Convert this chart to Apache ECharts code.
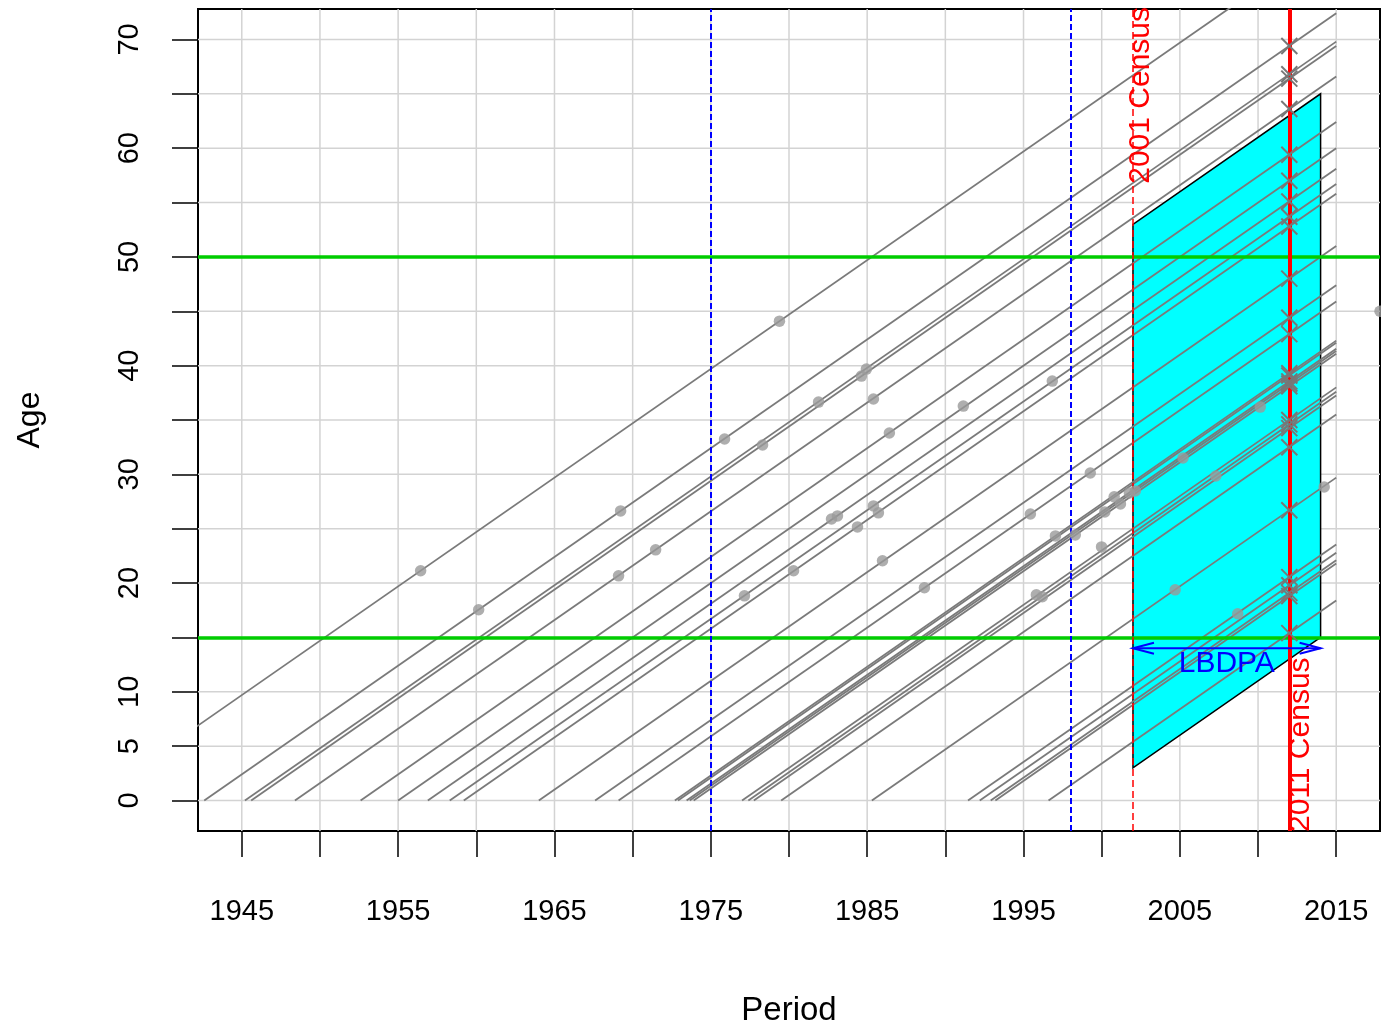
<!DOCTYPE html>
<html><head><meta charset="utf-8">
<script src="https://cdn.jsdelivr.net/npm/echarts@6/dist/echarts.min.js"></script>
<style>html,body{margin:0;padding:0;background:#fff}#c{width:1381px;height:1025px}</style>
</head><body><div id="c"></div>
<script>
// ---------- data ----------
const birthYears = [1935.3, 1942.6, 1945.2, 1945.6, 1948.4, 1952.6, 1955.0, 1956.9, 1958.3, 1959.2,
  1964.0, 1967.6, 1969.1, 1972.7, 1972.9, 1973.45, 1973.65, 1973.9, 1977.0, 1977.4, 1977.75,
  1979.5, 1985.3, 1991.45, 1992.2, 1992.9, 1993.2, 1996.6];
const exitYear = 2015;
const eventPoints = [[1956.44,21.13],[1960.15,17.55],[1969.23,26.64],[1969.10,20.67],[1971.47,23.06],
  [1975.88,33.25],[1979.39,44.09],[1977.15,18.83],[1978.31,32.70],[1980.29,21.13],[1981.89,36.65],
  [1982.72,25.90],[1983.10,26.18],[1984.38,25.17],[1984.63,39.04],[1984.95,39.68],[1985.40,27.10],
  [1985.72,26.46],[1985.40,36.93],[1985.98,22.05],[1986.42,33.80],[1988.66,19.57],[1991.15,36.28],
  [1995.44,26.36],[1995.82,18.92],[1996.20,18.74],[1996.84,38.58],[1997.04,24.34],[1998.31,24.43],
  [1999.27,30.13],[1999.99,23.33],[2000.20,26.55],[2000.80,27.93],[2001.20,27.28],[2001.77,28.29],
  [2002.15,28.48],[2005.20,31.50],[2004.70,19.38],[2007.30,29.85],[2008.70,17.18],[2010.14,36.19],
  [2014.23,28.84],[2017.8,45.0]];
const census2011Year = 2012;
const census2011Ages = [69.4, 66.8, 66.4, 63.6, 59.4, 57.0, 55.1, 53.7, 52.8, 48.0, 44.4, 42.9,
  39.3, 39.1, 38.55, 38.35, 38.1, 35.0, 34.6, 34.25, 32.5, 26.7, 20.55, 19.8, 19.1, 18.8, 15.4];
const census2001Year = 2002;
const censusLabels = ['2001 Census', '2011 Census'];
const referenceYears = [1975, 1998];
const ageBands = [15, 50];
const lbdpaYears = [2002, 2014];
const lbdpaLowerAges = [3, 15];
const lbdpaUpperAges = [53, 65];
const lbdpaArrowAge = 14;
const lbdpaLabel = 'LBDPA';
const xTickValues = [1945,1950,1955,1960,1965,1970,1975,1980,1985,1990,1995,2000,2005,2010,2015];
const xLabelValues = [1945,1955,1965,1975,1985,1995,2005,2015];
const yTickValues = [0,5,10,15,20,25,30,35,40,45,50,55,60,65,70];
const yLabelValues = [0,5,10,20,30,40,50,60,70];
const xRange = [1942.2, 2017.8];
const yRange = [-2.8, 72.8];

// ---------- chart ----------
const FONT = '"Liberation Sans", Arial, Helvetica, sans-serif';
const chart = echarts.init(document.getElementById('c'), null, {renderer: 'canvas'});

const series = [];
// grid lines
series.push({
  type: 'custom', silent: true, z: 1, data: [[xRange[0], yRange[0]]],
  renderItem: (params, api) => {
    const ch = [];
    xTickValues.forEach(v => {
      const a = api.coord([v, yRange[0]]), b = api.coord([v, yRange[1]]);
      ch.push({type:'line', shape:{x1:a[0], y1:a[1], x2:b[0], y2:b[1]}, style:{stroke:'#d3d3d3', lineWidth:1.5}});
    });
    yTickValues.forEach(v => {
      const a = api.coord([xRange[0], v]), b = api.coord([xRange[1], v]);
      ch.push({type:'line', shape:{x1:a[0], y1:a[1], x2:b[0], y2:b[1]}, style:{stroke:'#d3d3d3', lineWidth:1.5}});
    });
    return {type:'group', children: ch};
  }
});
// LBDPA parallelogram
series.push({
  type: 'custom', silent: true, z: 2, data: [[lbdpaYears[0], lbdpaLowerAges[0]]],
  renderItem: (params, api) => {
    const pts = [
      api.coord([lbdpaYears[0], lbdpaLowerAges[0]]),
      api.coord([lbdpaYears[0], lbdpaUpperAges[0]]),
      api.coord([lbdpaYears[1], lbdpaUpperAges[1]]),
      api.coord([lbdpaYears[1], lbdpaLowerAges[1]])
    ];
    return {type:'polygon', shape:{points: pts}, style:{fill:'#00ffff', stroke:'#000', lineWidth:1.5}};
  }
});
// lifelines
birthYears.forEach(b => {
  series.push({
    type: 'line', silent: true, z: 3, symbol: 'none', showSymbol: false, clip: true,
    data: [[b, 0], [exitYear, exitYear - b]],
    lineStyle: {color: '#7a7a7a', width: 1.8}
  });
});
// age bands (green)
series.push({
  type: 'line', data: [], silent: true, z: 4,
  markLine: {silent: true, symbol: 'none', label: {show: false}, animation: false,
    lineStyle: {color: '#00cd00', width: 3.5, type: 'solid'},
    data: ageBands.map(a => ({yAxis: a}))}
});
// reference years (blue dashed)
series.push({
  type: 'line', data: [], silent: true, z: 5,
  markLine: {silent: true, symbol: 'none', label: {show: false}, animation: false,
    lineStyle: {color: '#0000ff', width: 2, type: [6, 3]},
    data: referenceYears.map(y => ({xAxis: y}))}
});
// event points
series.push({
  type: 'scatter', silent: true, z: 6, symbol: 'circle', symbolSize: 11.5,
  itemStyle: {color: '#9a9a9a'}, data: eventPoints, clip: false
});
// crosses at 2011 census
series.push({
  type: 'custom', silent: true, z: 7,
  data: census2011Ages.map(a => [census2011Year, a]),
  renderItem: (params, api) => {
    const p = api.coord([api.value(0), api.value(1)]);
    const h = 8;
    return {type:'group', children:[
      {type:'line', shape:{x1:p[0]-h, y1:p[1]-h, x2:p[0]+h, y2:p[1]+h}, style:{stroke:'#777', lineWidth:2}},
      {type:'line', shape:{x1:p[0]-h, y1:p[1]+h, x2:p[0]+h, y2:p[1]-h}, style:{stroke:'#777', lineWidth:2}}
    ]};
  }
});
// census lines
series.push({
  type: 'line', data: [], silent: true, z: 8,
  markLine: {silent: true, symbol: 'none', label: {show: false}, animation: false,
    data: [
      {xAxis: census2001Year, lineStyle: {color: '#ff0000', width: 1.5, type: [7, 4]}},
      {xAxis: census2011Year, lineStyle: {color: '#ff0000', width: 4, type: 'solid'}}
    ]}
});
// annotations: arrow, LBDPA label, census labels
series.push({
  type: 'custom', silent: true, z: 9, data: [[lbdpaYears[0], lbdpaArrowAge]],
  renderItem: (params, api) => {
    const p0 = api.coord([lbdpaYears[0], lbdpaArrowAge]);
    const p1 = api.coord([lbdpaYears[1], lbdpaArrowAge]);
    const L = 21, H = 5.5;
    const blue = '#0000ff';
    const topY = api.coord([census2001Year, yRange[1]])[1];
    const botY = api.coord([census2011Year, yRange[0]])[1];
    const c01 = api.coord([census2001Year, 0])[0];
    const c11 = api.coord([census2011Year, 0])[0];
    const mid = api.coord([(lbdpaYears[0] + lbdpaYears[1]) / 2, lbdpaArrowAge]);
    return {type:'group', children:[
      {type:'line', shape:{x1:p0[0], y1:p0[1], x2:p1[0], y2:p1[1]}, style:{stroke:blue, lineWidth:2}},
      {type:'polyline', shape:{points:[[p0[0]+L, p0[1]-H],[p0[0], p0[1]],[p0[0]+L, p0[1]+H]]}, style:{stroke:blue, lineWidth:2, fill:null}},
      {type:'polyline', shape:{points:[[p1[0]-L, p1[1]-H],[p1[0], p1[1]],[p1[0]-L, p1[1]+H]]}, style:{stroke:blue, lineWidth:2, fill:null}},
      {type:'text', x: mid[0], y: mid[1] + 15, style:{text: lbdpaLabel, fill: blue, font: '30px ' + FONT, align:'center', verticalAlign:'middle'}},
      {type:'text', x: c01 - 7, y: topY - 2, rotation: Math.PI/2,
        style:{text: censusLabels[0], fill:'#ff0000', font:'30px ' + FONT, align:'right', verticalAlign:'top'}},
      {type:'text', x: c11 - 4, y: botY + 1, rotation: Math.PI/2,
        style:{text: censusLabels[1], fill:'#ff0000', font:'30px ' + FONT, align:'left', verticalAlign:'top'}}
    ]};
  }
});

chart.setOption({
  animation: false,
  backgroundColor: '#fff',
  textStyle: {fontFamily: FONT},
  grid: {left: 198, right: 1, top: 9, bottom: 194, show: true, borderColor: '#000', borderWidth: 2,
    backgroundColor: 'transparent', containLabel: false, outerBoundsMode: 'none'},
  xAxis: {
    type: 'value', min: xRange[0], max: xRange[1],
    axisLine: {show: false, onZero: false},
    splitLine: {show: false},
    axisTick: {show: true, customValues: xTickValues, length: 26, lineStyle: {color: '#000', width: 1.5}},
    axisLabel: {customValues: xLabelValues, color: '#000', fontSize: 29, fontFamily: FONT, margin: 66,
      formatter: v => String(v)},
    name: 'Period', nameLocation: 'middle', nameGap: 163,
    nameTextStyle: {color: '#000', fontSize: 33, fontFamily: FONT}
  },
  yAxis: {
    type: 'value', min: yRange[0], max: yRange[1],
    axisLine: {show: false, onZero: false},
    splitLine: {show: false},
    axisTick: {show: true, customValues: yTickValues, length: 26, lineStyle: {color: '#000', width: 1.5}},
    axisLabel: {customValues: yLabelValues, color: '#000', fontSize: 29, fontFamily: FONT, margin: 54, rotate: 90,
      formatter: v => String(v)},
    name: 'Age', nameLocation: 'middle', nameGap: 152,
    nameTextStyle: {color: '#000', fontSize: 32, fontFamily: FONT}
  },
  series: series
});
</script></body></html>
